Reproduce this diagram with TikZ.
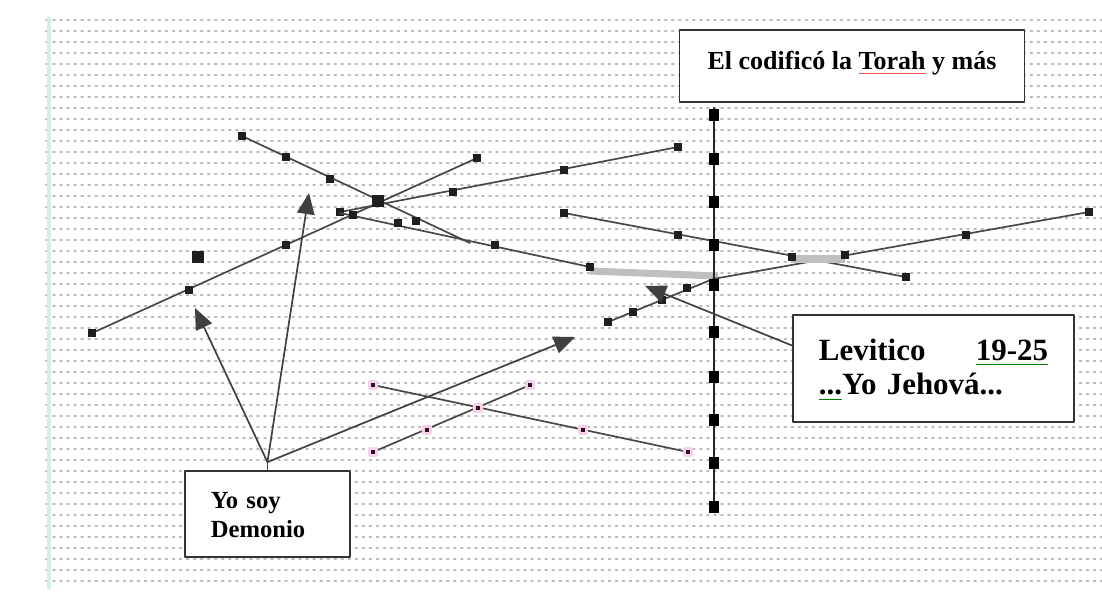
\documentclass[tikz,border=0pt]{standalone}
\usepackage{fontspec}
\setmainfont{Liberation Serif}
\usetikzlibrary{arrows.meta}

\newlength\anchosub
\newcommand\subrojo[1]{\leavevmode\settowidth\anchosub{#1}\rlap{\textcolor{red!70}{\rule[-3.5pt]{\anchosub}{0.8pt}}}#1}
\newcommand\subverde[1]{\leavevmode\settowidth\anchosub{#1}\rlap{\textcolor{green!50!black}{\rule[-3.5pt]{\anchosub}{0.8pt}}}#1}

\tikzset{
  rejilla/.style={draw=black!27, line width=1.1pt, dash pattern=on 1.4pt off 3.6pt},
  ln/.style={draw=black!72, line width=1.2pt},
  eje/.style={draw=black!85, line width=1.7pt},
  flecha/.style={draw=black!75, line width=1.2pt, ->},
  hl/.style={draw=black!25, line width=5pt, line cap=butt},
  mrk/.style={rectangle, fill=black!88, inner sep=0pt, minimum size=5.5pt},
  mrkg/.style={mrk, minimum size=8pt},
  mrkv/.style={rectangle, fill=black, inner sep=0pt, minimum width=6.5pt, minimum height=8pt},
  mrkp/.style={rectangle, fill={rgb,255:red,50;green,12;blue,45}, draw={rgb,255:red,246;green,210;blue,232}, line width=2.2pt, inner sep=0pt, minimum size=5pt},
  caja/.style={draw=black!80, line width=1.3pt, fill=white, inner ysep=0pt}
}

\begin{document}
\begin{tikzpicture}[x=0.025cm,y=-0.025cm,line cap=round,line join=round,>={Triangle[length=15pt,width=12.5pt]}]
\useasboundingbox[fill=white] (0,0) rectangle (1102,600);
% rejilla
\foreach \gy in {20,31,...,586} \draw[rejilla] (46,\gy) -- (1102,\gy);
\draw[draw={rgb,255:red,212;green,238;blue,232}, line width=2.5pt] (49,18) -- (49,588);

% rectas con marcas
\draw[ln] (90,334) -- (477,158);
\foreach \p [count=\i] in {(92,333),(189,290),(286,245),(477,158)} \node[mrk] (a\i) at \p {};
\draw[ln] (340,212) -- (678,147);
\foreach \p [count=\i] in {(340,212),(453,192),(564,170),(678,147)} \node[mrk] (b\i) at \p {};
\draw[ln] (242,136) -- (470,243);
\foreach \p [count=\i] in {(242,136),(286,157),(330,179),(416,221)} \node[mrk] (c\i) at \p {};
\draw[ln] (340,213) -- (590,267);
\draw[hl] (590,271) -- (718,276);
\foreach \p [count=\i] in {(353,215),(398,223),(495,245),(590,267)} \node[mrk] (d\i) at \p {};
\node[mrkg] (cruce) at (378,201) {};
\node[mrkg] (suelta) at (198,257) {};
\draw[ln] (608,322) -- (713,279) -- (1089,212);
\draw[ln] (564,213) -- (906,277);
\draw[hl] (792,259) -- (845,259);
\foreach \p [count=\i] in {(608,322),(633,312),(662,300),(687,288),(845,255),(966,235),(1089,212)} \node[mrk] (e\i) at \p {};
\foreach \p [count=\i] in {(564,213),(678,235),(792,257),(906,277)} \node[mrk] (f\i) at \p {};
% eje vertical
\draw[eje] (714,108) -- (714,511);
\foreach \vy [count=\i] in {115,159,202,245,285,332,377,420,463,507} \node[mrkv] (v\i) at (714,\vy) {};
% rectas de abajo
\draw[ln] (373,385) -- (688,452);
\draw[ln] (373,452) -- (530,385);
\foreach \p [count=\i] in {(373,385),(478,408),(583,430),(688,452),(373,452),(427,430),(530,385)} \node[mrkp] (g\i) at \p {};

% cajas
\node[caja, minimum width=8.625cm, text height=0.975cm, text depth=0.825cm, anchor=base, font=\bfseries\fontsize{18.5}{22}\selectfont] (torah) at (852,69) {El codificó la \subrojo{Torah} y más};
\node[caja, anchor=base west, inner xsep=0.65cm, text width=5.725cm, align=left, text height=1.125cm, text depth=1.55cm, font=\bfseries\fontsize{22}{24.8}\selectfont] (levit) at (792,360) {Levitico\hfill \subverde{19-25}\\ \subverde{...}Yo Jehová...};
\node[caja, anchor=base west, inner xsep=0.65cm, text width=2.825cm, align=left, text height=0.925cm, text depth=1.225cm, font=\bfseries\fontsize{17.5}{21.3}\selectfont] (demon) at (184,508) {Yo soy\\Demonio};

% flechas
\coordinate (dsrc) at ([yshift=0.2cm]demon.north);
\coordinate (p1) at (195,308);
\coordinate (p2) at (309,193);
\coordinate (p3) at (575,337);
\coordinate (p4) at (645,286);
\draw[ln] (demon.north) -- (dsrc);
\foreach \q in {p1,p2,p3} \draw[flecha] (dsrc) -- (\q);
\draw[flecha] ([yshift=0.575cm]levit.west) -- (p4);
\end{tikzpicture}
\end{document}
